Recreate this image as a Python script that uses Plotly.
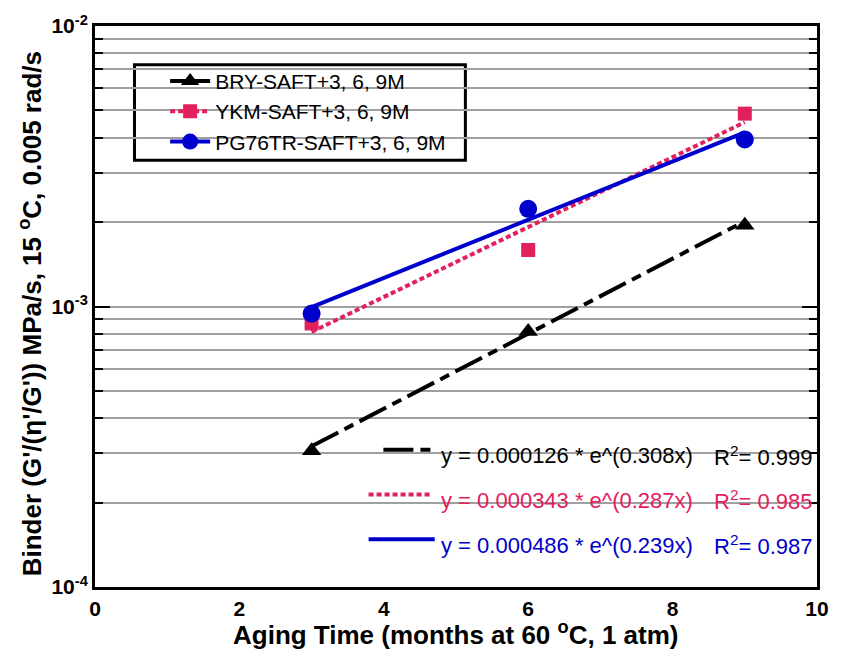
import plotly.graph_objects as go
import math

# ---- data ----
months = [3, 6, 9]
bry = [3.06e-4, 8.15e-4, 1.95e-3]
ykm = [8.7e-4, 1.59e-3, 4.87e-3]
pg76 = [9.44e-4, 2.23e-3, 3.94e-3]

names = ["BRY-SAFT+3, 6, 9M", "YKM-SAFT+3, 6, 9M", "PG76TR-SAFT+3, 6, 9M"]
fit_a = [0.000126, 0.000343, 0.000486]
fit_b = [0.308, 0.287, 0.239]
fit_r2 = ["0.999", "0.985", "0.987"]

colors = ["#000000", "#E2205C", "#0000CC"]
symbols = ["triangle-up", "square", "circle"]
msizes = [17, 14, 18]
dashes = ["30px,7px,10px,7px", "5px,3px", "solid"]

W, H = 841, 655
L, R, T, B = 95, 15, 23, 68
pw, ph = W - L - R, H - T - B

def px(x):
    return (x - L) / pw

def py(y):
    return (H - B - y) / ph

fig = go.Figure()
series = [bry, ykm, pg76]
for i, ys in enumerate(series):
    fity = [fit_a[i] * math.exp(fit_b[i] * m) for m in months]
    fig.add_trace(go.Scatter(x=months, y=fity, mode="lines",
                             line=dict(color=colors[i], width=4, dash=dashes[i]),
                             showlegend=False, hoverinfo="skip"))
for i, ys in enumerate(series):
    fig.add_trace(go.Scatter(x=months, y=ys, mode="markers",
                             marker=dict(symbol=symbols[i], size=msizes[i], color=colors[i]),
                             showlegend=False))
    # legend entry (line + marker)
    fig.add_trace(go.Scatter(x=[None], y=[None], mode="lines+markers", name=names[i],
                             line=dict(color=colors[i], width=4, dash=dashes[i] if i != 0 else "solid"),
                             marker=dict(symbol=symbols[i], size=msizes[i], color=colors[i])))

minor_vals = [k * 10.0 ** e for e in (-4, -3) for k in range(2, 10)]

fig.update_layout(
    width=W, height=H,
    margin=dict(l=L, r=R, t=T, b=B),
    paper_bgcolor="white", plot_bgcolor="white",
    font=dict(family="Liberation Sans, Arial, sans-serif", color="black"),
    showlegend=True,
    legend=dict(x=px(166), y=py(58), xanchor="left", yanchor="top",
                bgcolor="rgba(0,0,0,0)", borderwidth=0,
                font=dict(size=21), tracegroupgap=0, itemwidth=40),
    xaxis=dict(range=[0, 10], dtick=2, tick0=0, showgrid=False, zeroline=False,
               showline=True, linecolor="black", linewidth=3, mirror=True,
               ticks="", ticklabelstandoff=1,
               tickfont=dict(size=21, family="Liberation Sans, Arial", weight="bold")),
    yaxis=dict(type="log", range=[-4, -2], showline=True, linecolor="black", linewidth=3,
               mirror="allticks", ticks="inside", ticklen=15, tickwidth=2, tickcolor="black",
               tickvals=[1e-4, 1e-3, 1e-2],
               ticktext=["10<sup>-4</sup>", "10<sup>-3</sup>", "10<sup>-2</sup>"],
               tickfont=dict(size=21, family="Liberation Sans, Arial", weight="bold"),
               showgrid=True, gridcolor="#A0A0A0", gridwidth=2, zeroline=False,
               minor=dict(tickmode="array", tickvals=minor_vals, ticks="inside", ticklen=8,
                          tickwidth=2, tickcolor="black", showgrid=True,
                          gridcolor="#A0A0A0", gridwidth=2)),
)

shapes = [
    # legend box
    dict(type="rect", xref="paper", yref="paper", x0=px(135), x1=px(470), y0=py(158), y1=py(62),
         line=dict(color="black", width=3), fillcolor="white", layer="between"),
    # equation backdrop
    dict(type="rect", xref="paper", yref="paper", x0=px(373), x1=px(824), y0=py(568), y1=py(436),
         line=dict(width=0), fillcolor="white", layer="between"),
]
sample_x = [(387, 436), (372, 436), (372, 439)]
row_y = [455, 500, 545]
for i in range(3):
    x0, x1 = sample_x[i]
    yl = row_y[i] - 6
    shapes.append(dict(type="line", xref="paper", yref="paper", x0=px(x0), x1=px(x1),
                       y0=py(yl), y1=py(yl), line=dict(color=colors[i], width=4, dash=dashes[i])))
fig.update_layout(shapes=shapes)

ann = [
    dict(text="Aging Time (months at 60 <sup>o</sup>C, 1 atm)", xref="paper", yref="paper",
         x=0.5, y=py(634), showarrow=False, xanchor="center", yanchor="middle",
         font=dict(size=26, weight="bold")),
    dict(text="Binder (G'/(\u03b7'/G')) MPa/s, 15 <sup>o</sup>C, 0.005 rad/s", xref="paper", yref="paper",
         x=px(30), y=py(312), showarrow=False, textangle=-90, xanchor="center", yanchor="middle",
         font=dict(size=26, weight="bold")),
]
for i in range(3):
    ann.append(dict(text=f"y = {fit_a[i]:.6f} * e^({fit_b[i]:.3f}x)", xref="paper", yref="paper",
                    x=px(443), y=py(row_y[i]), xanchor="left", yanchor="middle", showarrow=False,
                    font=dict(size=22, color=colors[i])))
    ann.append(dict(text=f"R<sup>2</sup>= {fit_r2[i]}", xref="paper", yref="paper",
                    x=px(720), y=py(row_y[i]), xanchor="left", yanchor="middle", showarrow=False,
                    font=dict(size=22, color=colors[i])))
fig.update_layout(annotations=ann)

fig.write_html("out.html")
